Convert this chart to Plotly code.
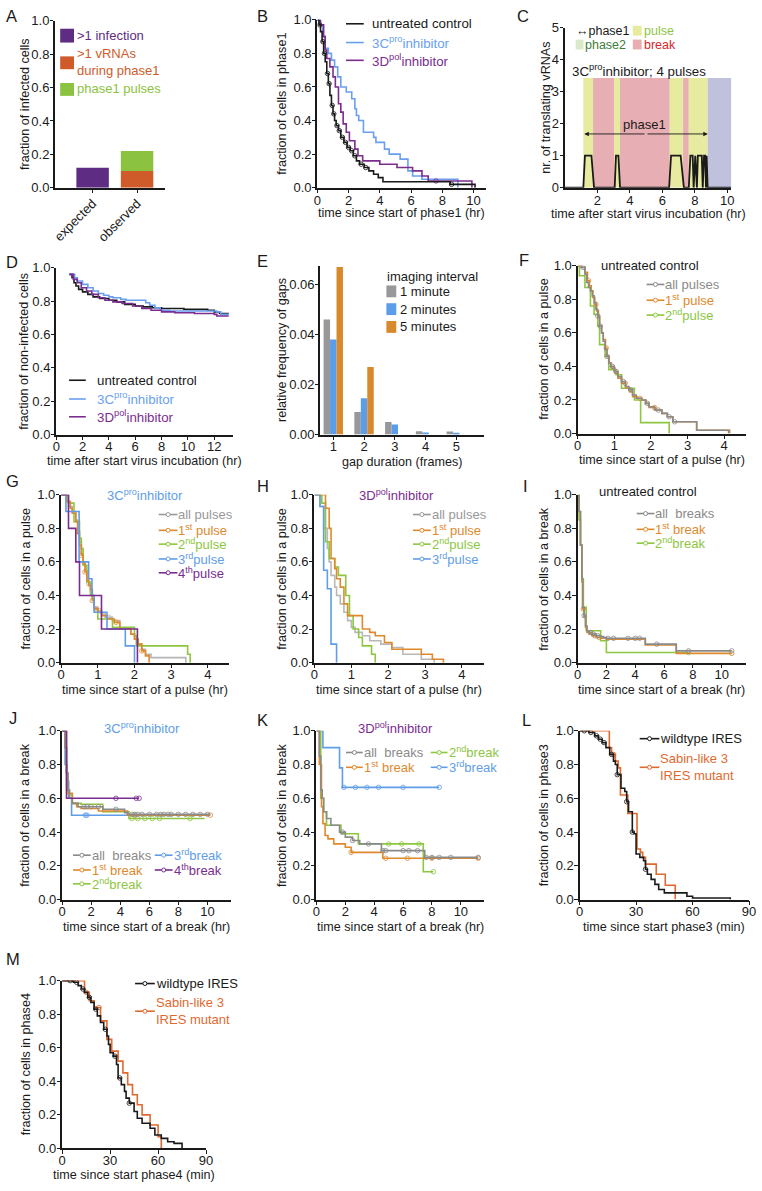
import numpy as np
import plotly.graph_objects as go

W, H = 762, 1191
FONT = "Liberation Sans, Arial, sans-serif"

BLACK = "#1a1a1a"
GRAY = "#999999"
ORANGE = "#e0892c"
GREEN = "#8dc63f"
BLUE = "#5f9de9"
PURPLE = "#7b2c8f"
RED_ORANGE = "#df6a30"

# ---------------- data ----------------
# A
a_groups = ["expected", "observed"]
a_multi_infection = [0.12, 0]
a_multi_vrna = [0, 0.10]
a_phase1_pulses = [0, 0.12]

# B  fraction of cells in phase1 (hr)
b_ctrl_t = [0, 0.1, 0.2, 0.3, 0.4, 0.5, 0.6, 0.7, 0.8, 0.9, 1.0, 1.1, 1.2, 1.35, 1.5, 1.7, 1.9, 2.1, 2.3, 2.5, 2.7, 3.0, 3.3, 3.6, 3.9, 4.2, 8.5, 10.1]
b_ctrl_s = [1.0, 0.97, 0.93, 0.87, 0.80, 0.75, 0.68, 0.62, 0.55, 0.49, 0.44, 0.40, 0.37, 0.34, 0.30, 0.27, 0.24, 0.22, 0.19, 0.16, 0.14, 0.12, 0.10, 0.08, 0.06, 0.035, 0.02, 0.0]
b_ctrl_cens = [0.15, 0.35, 0.45, 0.65, 0.75, 0.95, 1.05, 1.25, 1.4, 1.6, 1.8, 2.0, 2.2, 2.4, 2.8, 3.1, 8.6]
b_3c_t = [0, 0.15, 0.35, 0.5, 0.7, 0.9, 1.1, 1.3, 1.5, 1.85, 2.2, 2.4, 2.5, 2.65, 2.95, 3.6, 3.75, 4.3, 4.6, 5.3, 5.8, 6.1, 6.7, 9.0]
b_3c_s = [1.0, 0.97, 0.9, 0.83, 0.8, 0.76, 0.72, 0.66, 0.60, 0.57, 0.53, 0.47, 0.43, 0.40, 0.33, 0.30, 0.27, 0.23, 0.20, 0.17, 0.10, 0.07, 0.05, 0.0]
b_3d_t = [0, 0.2, 0.4, 0.5, 0.6, 0.8, 1.0, 1.15, 1.35, 1.5, 1.65, 1.85, 2.05, 2.4, 2.6, 2.9, 4.0, 5.1, 6.1, 6.7, 7.1, 9.9]
b_3d_s = [1.0, 0.97, 0.9, 0.82, 0.77, 0.72, 0.66, 0.60, 0.50, 0.45, 0.38, 0.33, 0.28, 0.23, 0.19, 0.16, 0.14, 0.12, 0.10, 0.07, 0.04, 0.0]
b_3d_cens = [7.6]

# C  example cell trace
c_time = [0, 1.14, 1.24, 1.64, 1.8, 3.07, 3.15, 3.3, 3.4, 6.42, 6.54, 7.13, 7.33, 7.63, 7.73, 7.87, 7.93, 8.03, 8.13, 8.19, 8.43, 8.49, 8.57, 8.64, 8.69, 8.73, 8.79, 10.24]
c_count = [0, 0, 1, 1, 0, 0, 1, 1, 0, 0, 1, 1, 0, 0, 1, 1, 0, 1, 0, 1, 1, 0, 1, 1, 0, 1, 0, 0]
c_seg_start = [1.14, 1.74, 3.05, 3.4, 6.46, 7.28, 7.63, 8.79]
c_seg_end = [1.74, 3.05, 3.4, 6.46, 7.28, 7.63, 8.79, 10.24]
c_seg_kind = ["pulse", "break", "pulse", "break", "pulse", "break", "pulse", "phase2"]
c_band_top = 3.43
c_phase1 = [1.2, 8.8]

# D  fraction of non-infected cells (hr)
d_ctrl_t = [1.0, 1.2, 1.35, 1.5, 1.7, 2.0, 2.4, 2.8, 3.3, 4.0, 4.6, 5.2, 6.0, 6.6, 7.3, 8.0, 9.7, 11.5, 12.0, 12.4, 13.1]
d_ctrl_s = [0.96, 0.94, 0.91, 0.89, 0.87, 0.855, 0.84, 0.825, 0.815, 0.805, 0.795, 0.78, 0.77, 0.765, 0.76, 0.755, 0.75, 0.745, 0.735, 0.725, 0.725]
d_3c_t = [1.0, 1.4, 1.6, 2.0, 2.4, 2.8, 3.2, 3.6, 4.0, 4.3, 4.9, 5.3, 6.8, 7.1, 7.5, 7.9, 8.6, 12.2, 12.5, 13.1]
d_3c_s = [0.96, 0.94, 0.92, 0.90, 0.88, 0.86, 0.845, 0.835, 0.825, 0.82, 0.81, 0.805, 0.79, 0.775, 0.76, 0.745, 0.74, 0.735, 0.72, 0.72]
d_3d_t = [1.0, 1.3, 1.6, 1.9, 2.3, 2.7, 3.2, 3.7, 4.3, 5.0, 5.8, 6.5, 7.2, 8.0, 9.0, 10.5, 12.0, 12.2, 13.1]
d_3d_s = [0.96, 0.93, 0.91, 0.88, 0.86, 0.84, 0.82, 0.805, 0.795, 0.785, 0.77, 0.755, 0.745, 0.735, 0.73, 0.725, 0.72, 0.71, 0.71]

# E  gap durations
e_frames = [1, 2, 3, 4, 5]
e_1min = [0.046, 0.009, 0.005, 0.0013, 0.0012]
e_2min = [0.038, 0.0145, 0.004, 0.0008, 0.0004]
e_5min = [0.067, 0.027, 0, 0, 0]

# F  untreated pulses (hr)
f_all_t = [0, 0.1, 0.2, 0.25, 0.3, 0.35, 0.4, 0.45, 0.5, 0.55, 0.6, 0.65, 0.7, 0.75, 0.8, 0.85, 0.9, 1.0, 1.1, 1.2, 1.3, 1.4, 1.5, 1.6, 1.75, 1.85, 1.95, 2.1, 2.3, 2.45, 2.6, 3.25, 4.12]
f_all_s = [1.0, 0.99, 0.95, 0.90, 0.87, 0.85, 0.82, 0.78, 0.74, 0.70, 0.64, 0.60, 0.55, 0.50, 0.46, 0.42, 0.40, 0.37, 0.34, 0.31, 0.28, 0.26, 0.23, 0.21, 0.20, 0.18, 0.16, 0.14, 0.12, 0.10, 0.07, 0.02, 0.0]
f_all_cens = [0.15, 0.55, 0.62, 0.8, 0.95, 1.05, 1.25, 1.45, 1.9, 2.2, 2.5, 2.65]
f_1st_t = [0, 0.12, 0.2, 0.27, 0.32, 0.37, 0.42, 0.47, 0.52, 0.57, 0.6, 0.66, 0.7, 0.76, 0.8, 0.86, 0.92, 1.02, 1.1, 1.2, 1.32, 1.42, 1.5, 1.62, 1.75, 1.87, 1.95, 2.12, 2.3, 2.45, 2.6, 3.25, 4.15]
f_1st_s = [1.0, 0.99, 0.96, 0.91, 0.88, 0.85, 0.81, 0.77, 0.73, 0.69, 0.64, 0.60, 0.56, 0.51, 0.46, 0.42, 0.39, 0.36, 0.33, 0.30, 0.27, 0.25, 0.22, 0.21, 0.20, 0.18, 0.155, 0.14, 0.12, 0.10, 0.07, 0.02, 0.0]
f_1st_cens = [0.3, 0.5, 0.78, 1.3, 1.7, 2.1]
f_2nd_t = [0, 0.05, 0.2, 0.35, 0.45, 0.55, 0.6, 0.75, 0.85, 1.05, 1.2, 1.55, 1.72, 2.5]
f_2nd_s = [1.0, 0.94, 0.87, 0.76, 0.71, 0.64, 0.53, 0.46, 0.38, 0.35, 0.27, 0.20, 0.065, 0.0]

# G  3Cpro pulses (hr)
g_all_t = [0, 0.15, 0.2, 0.3, 0.4, 0.45, 0.5, 0.55, 0.6, 0.65, 0.7, 0.75, 0.8, 0.85, 0.9, 1.0, 1.1, 1.2, 1.4, 1.6, 1.9, 2.0, 2.1, 2.2, 2.3, 2.45, 3.4]
g_all_s = [1.0, 0.97, 0.93, 0.90, 0.85, 0.78, 0.72, 0.65, 0.60, 0.55, 0.50, 0.47, 0.44, 0.38, 0.33, 0.31, 0.29, 0.27, 0.25, 0.20, 0.17, 0.14, 0.11, 0.08, 0.05, 0.03, 0.0]
g_all_cens = [0.45, 0.75, 1.05, 1.3]
g_1st_t = [0, 0.15, 0.25, 0.3, 0.4, 0.45, 0.5, 0.55, 0.6, 0.65, 0.7, 0.75, 0.8, 0.85, 0.9, 1.0, 1.1, 1.25, 1.45, 1.6, 1.9, 2.0, 2.1, 2.2, 2.3, 2.4]
g_1st_s = [1.0, 0.96, 0.92, 0.89, 0.84, 0.77, 0.70, 0.64, 0.59, 0.54, 0.49, 0.46, 0.43, 0.37, 0.32, 0.30, 0.28, 0.26, 0.24, 0.20, 0.17, 0.14, 0.11, 0.07, 0.04, 0.0]
g_1st_cens = [0.55, 0.65, 0.85, 0.95, 1.5, 2.2]
g_2nd_t = [0, 0.2, 0.35, 0.5, 0.55, 0.6, 0.7, 0.8, 0.9, 1.0, 1.4, 2.0, 2.05, 3.45, 3.52]
g_2nd_s = [1.0, 0.95, 0.84, 0.74, 0.68, 0.58, 0.48, 0.40, 0.32, 0.26, 0.21, 0.16, 0.10, 0.05, 0.0]
g_3rd_t = [0, 0.13, 0.49, 0.75, 0.84, 0.9, 1.25, 1.75, 2.0]
g_3rd_s = [1.0, 0.9, 0.6, 0.5, 0.4, 0.3, 0.2, 0.1, 0.0]
g_4th_t = [0, 0.2, 0.4, 0.5, 1.1, 2.08]
g_4th_s = [1.0, 0.8, 0.6, 0.4, 0.2, 0.0]

# H  3Dpol pulses (hr)
h_all_t = [0, 0.15, 0.25, 0.35, 0.4, 0.45, 0.55, 0.6, 0.7, 0.8, 0.9, 1.0, 1.1, 1.3, 1.5, 1.8, 2.1, 2.4, 2.9, 3.25]
h_all_s = [1.0, 0.93, 0.80, 0.68, 0.60, 0.52, 0.45, 0.40, 0.35, 0.30, 0.25, 0.21, 0.18, 0.16, 0.13, 0.11, 0.09, 0.05, 0.02, 0.0]
h_1st_t = [0, 0.3, 0.4, 0.45, 0.55, 0.6, 0.7, 0.8, 0.9, 1.3, 1.5, 1.65, 1.9, 2.1, 2.9, 3.2, 3.5]
h_1st_s = [1.0, 0.92, 0.80, 0.62, 0.56, 0.50, 0.45, 0.35, 0.28, 0.20, 0.18, 0.16, 0.12, 0.08, 0.05, 0.02, 0.0]
h_2nd_t = [0, 0.2, 0.3, 0.4, 0.55, 0.65, 0.85, 0.95, 1.05, 1.2, 1.3, 1.55, 1.65]
h_2nd_s = [1.0, 0.95, 0.72, 0.62, 0.57, 0.52, 0.40, 0.28, 0.20, 0.15, 0.10, 0.05, 0.0]
h_3rd_t = [0, 0.15, 0.25, 0.35, 0.45, 0.6]
h_3rd_s = [1.0, 0.93, 0.55, 0.44, 0.11, 0.0]

# I  untreated breaks (hr)
i_all_t = [0, 0.1, 0.2, 0.3, 0.35, 0.45, 0.55, 0.65, 0.8, 1.0, 1.3, 1.6, 1.8, 2.0, 4.7, 6.85, 10.7]
i_all_s = [1.0, 0.90, 0.70, 0.50, 0.33, 0.28, 0.22, 0.19, 0.18, 0.17, 0.16, 0.155, 0.15, 0.145, 0.11, 0.07, 0.07]
i_all_cens = [0.45, 0.9, 1.1, 1.4, 2.1, 2.5, 3.5, 4.0, 4.3, 5.5, 7.7, 10.7]
i_1st_t = [0, 0.1, 0.2, 0.3, 0.35, 0.45, 0.55, 0.65, 0.8, 1.0, 1.3, 1.6, 2.0, 4.7, 6.85, 10.7]
i_1st_s = [1.0, 0.90, 0.70, 0.48, 0.32, 0.27, 0.21, 0.18, 0.17, 0.16, 0.15, 0.145, 0.14, 0.105, 0.055, 0.055]
i_1st_cens = [0.4, 1.2, 1.5, 10.7]
i_2nd_t = [0, 0.1, 0.2, 0.3, 0.4, 0.6, 1.6, 2.0, 7.7]
i_2nd_s = [1.0, 0.85, 0.7, 0.5, 0.33, 0.19, 0.13, 0.06, 0.06]
i_2nd_cens = [7.7]

# J  3Cpro breaks (hr)
j_all_t = [0, 0.2, 0.3, 0.4, 0.5, 0.7, 1.1, 2.8, 4.3, 4.5, 10.2]
j_all_s = [1.0, 0.9, 0.75, 0.65, 0.6, 0.57, 0.55, 0.535, 0.515, 0.505, 0.505]
j_all_cens = [1.5, 1.7, 2.0, 2.5, 3.7, 4.8, 5.0, 5.2, 5.5, 6.0, 6.5, 6.8, 7.0, 7.3, 7.5, 8.0, 8.5, 9.0, 9.5, 10.0]
j_1st_t = [0, 0.2, 0.3, 0.4, 0.7, 1.0, 1.3, 2.5, 4.5, 10.2]
j_1st_s = [1.0, 0.9, 0.75, 0.63, 0.57, 0.55, 0.54, 0.525, 0.5, 0.5]
j_1st_cens = [5.0, 10.2]
j_2nd_t = [0, 0.3, 0.5, 0.7, 1.3, 2.8, 4.6, 9.8]
j_2nd_s = [1.0, 0.65, 0.62, 0.57, 0.565, 0.52, 0.48, 0.48]
j_2nd_cens = [4.8, 5.2, 5.7, 6.2, 6.7, 8.8]
j_3rd_t = [0, 0.2, 0.35, 0.45, 0.65, 4.5]
j_3rd_s = [1.0, 0.8, 0.7, 0.6, 0.5, 0.5]
j_3rd_cens = [1.6, 1.7]
j_4th_t = [0, 0.3, 5.3]
j_4th_s = [1.0, 0.6, 0.6]
j_4th_cens = [3.7, 5.1, 5.3]

# K  3Dpol breaks (hr)
k_all_t = [0, 0.2, 0.3, 0.4, 0.5, 0.7, 1.0, 1.6, 2.0, 2.5, 3.0, 4.5, 7.5, 11.2]
k_all_s = [1.0, 0.85, 0.65, 0.6, 0.52, 0.48, 0.44, 0.40, 0.37, 0.35, 0.33, 0.29, 0.25, 0.25]
k_all_cens = [1.8, 2.5, 3.6, 4.6, 4.8, 6.0, 6.4, 7.0, 7.6, 8.0, 8.5, 9.3, 11.2]
k_1st_t = [0, 0.2, 0.35, 0.45, 0.6, 0.8, 1.2, 2.0, 2.4, 4.6, 11.2]
k_1st_s = [1.0, 0.8, 0.55, 0.45, 0.38, 0.36, 0.33, 0.31, 0.28, 0.245, 0.245]
k_1st_cens = [2.4, 4.8, 6.3, 8.0, 11.2]
k_2nd_t = [0, 0.3, 0.5, 0.7, 1.7, 2.9, 7.4, 8.1]
k_2nd_s = [1.0, 0.6, 0.52, 0.44, 0.39, 0.33, 0.165, 0.165]
k_2nd_cens = [5.0, 5.9, 7.1, 8.1]
k_3rd_t = [0, 0.45, 1.6, 1.8, 8.5]
k_3rd_s = [1.0, 0.9, 0.78, 0.665, 0.665]
k_3rd_cens = [1.9, 2.7, 3.5, 4.3, 6.0, 8.5]

# L  phase3 (min)
l_wt_t = [0, 5, 8, 10, 12, 14, 16, 18, 19, 20, 22, 24, 25, 26, 28, 29, 30, 32, 34, 35, 36, 38, 40, 42, 45, 57, 60, 80]
l_wt_s = [1.0, 0.99, 0.97, 0.95, 0.93, 0.90, 0.86, 0.82, 0.80, 0.74, 0.66, 0.64, 0.58, 0.52, 0.40, 0.39, 0.27, 0.25, 0.23, 0.18, 0.15, 0.12, 0.09, 0.06, 0.04, 0.02, 0.01, 0.0]
l_wt_cens = [2.5, 6, 9, 11, 13, 17, 20, 25, 28, 35]
l_mut_t = [0, 15.8, 17, 19, 20.5, 21.7, 25.6, 30.5, 32.3, 33.5, 35, 40.7, 45.5, 50.8]
l_mut_s = [1.0, 0.90, 0.86, 0.82, 0.78, 0.62, 0.51, 0.30, 0.28, 0.25, 0.21, 0.15, 0.085, 0.0]
l_mut_cens = [18]

# M  phase4 (min)
m_wt_t = [0, 7, 10, 12, 14, 16, 18, 20, 22, 24, 26, 28, 29, 30, 32, 34, 35, 37, 39, 40, 42, 45, 47, 50, 55, 58, 62, 66, 70, 75]
m_wt_s = [1.0, 0.99, 0.97, 0.95, 0.93, 0.90, 0.87, 0.83, 0.79, 0.75, 0.71, 0.67, 0.62, 0.57, 0.55, 0.50, 0.42, 0.38, 0.34, 0.30, 0.27, 0.22, 0.18, 0.15, 0.12, 0.08, 0.06, 0.04, 0.03, 0.0]
m_wt_cens = [5, 9, 13, 17, 21, 27, 33, 36, 42]
m_mut_t = [0, 14, 17, 20, 24, 28, 31, 35, 38, 41, 44, 47, 50, 55, 60, 62]
m_mut_s = [1.0, 0.93, 0.88, 0.84, 0.76, 0.65, 0.58, 0.52, 0.45, 0.38, 0.32, 0.26, 0.20, 0.14, 0.07, 0.0]
m_mut_cens = [15, 23]

# ---------------- figure ----------------
fig = go.Figure()
axes = {}
ann = []
shp = []

TICK_SIZE = 13
TITLE_SIZE = 12.6
LEG_SIZE = 13


def ax_id(n):
    return "" if n == 1 else str(n)


def px(x):
    return x / W


def py(y):
    return 1 - y / H


def txt(x, y, text, color=BLACK, size=LEG_SIZE, xanchor="left", angle=0):
    ann.append(dict(x=px(x), y=py(y), xref="paper", yref="paper", text=text,
                    showarrow=False, xanchor=xanchor, yanchor="middle", align=xanchor,
                    borderpad=0, textangle=angle,
                    font=dict(size=size, color=color, family=FONT)))


def make_axes(n, l, r, t, b, xr, yr, xtv, ytv, xtitle, ytitle, ytf=".1f",
              xcat=False, xangle=0, xoff=27, yoff=35):
    s = ax_id(n)
    common = dict(showline=True, linecolor=BLACK, linewidth=1.5, ticks="outside",
                  ticklen=3.5, tickwidth=1.3, tickcolor=BLACK, showgrid=False,
                  zeroline=False, tickfont=dict(size=TICK_SIZE, color=BLACK))
    xa = dict(common, domain=[l / W, r / W], anchor="y" + s, range=xr, tickangle=xangle,
              ticklabelstandoff=-2 if xcat else -4)
    if xcat:
        xa["type"] = "category"
    else:
        xa["tickvals"] = xtv
    axes["xaxis" + s] = xa
    axes["yaxis" + s] = dict(common, domain=[1 - b / H, 1 - t / H], anchor="x" + s,
                             range=yr, tickvals=ytv, tickformat=ytf,
                             ticklabelstandoff=-2)
    if xtitle:
        txt((l + r) / 2, b + xoff, xtitle, BLACK, TITLE_SIZE, "center")
    if ytitle:
        txt(l - yoff, (t + b) / 2, ytitle, BLACK, TITLE_SIZE, "center", -90)


def km(n, t, s, color, cens=None, width=1.6):
    a = ax_id(n)
    fig.add_trace(go.Scatter(x=t, y=s, mode="lines", xaxis="x" + a, yaxis="y" + a,
                             line=dict(color=color, width=width, shape="hv"),
                             showlegend=False, hoverinfo="skip"))
    if cens:
        tt = np.array(t)
        ss = np.array(s)
        idx = np.clip(np.searchsorted(tt, cens, side="right") - 1, 0, len(ss) - 1)
        fig.add_trace(go.Scatter(x=cens, y=ss[idx], mode="markers", xaxis="x" + a,
                                 yaxis="y" + a,
                                 marker=dict(symbol="circle-open", size=4.5, color=color,
                                             line=dict(width=1, color=color), opacity=0.8),
                                 showlegend=False, hoverinfo="skip"))


def seg(x1, x2, y, color, dot=False):
    shp.append(dict(type="line", xref="paper", yref="paper", x0=px(x1), x1=px(x2),
                    y0=py(y), y1=py(y), line=dict(color=color, width=1.6)))
    if dot:
        xm = px((x1 + x2) / 2)
        shp.append(dict(type="circle", xref="paper", yref="paper", xsizemode="pixel",
                        ysizemode="pixel", xanchor=xm, yanchor=py(y), x0=-2, x1=2,
                        y0=-2, y1=2, line=dict(color=color, width=1), fillcolor="white"))


def sq(x1, x2, y1, y2, color):
    shp.append(dict(type="rect", xref="paper", yref="paper", x0=px(x1), x1=px(x2),
                    y0=py(y2), y1=py(y1), line=dict(width=0), fillcolor=color))


def letter(x, y, s):
    txt(x, y, s, BLACK, 16.5)


# ---- A ----
PURPLE_A, ORANGE_A, GREEN_A = "#5e2c83", "#cf5b2b", "#8bc340"
make_axes(1, 52, 163, 14, 183, [-0.84, 1.62], [0, 1], None,
          [0, 0.2, 0.4, 0.6, 0.8, 1.0], None, "fraction of infected cells",
          xcat=True, xangle=-45, yoff=30)
for vals, col, base in [(a_multi_infection, PURPLE_A, None),
                        (a_multi_vrna, ORANGE_A, None),
                        (a_phase1_pulses, GREEN_A, a_multi_vrna)]:
    fig.add_trace(go.Bar(x=a_groups, y=vals, base=base, width=0.73, offset=-0.365,
                         marker=dict(color=col, line=dict(width=0)), xaxis="x", yaxis="y",
                         showlegend=False, hoverinfo="skip"))
sq(57, 71, 22, 36, PURPLE_A)
txt(73, 29, ">1 infection", PURPLE_A)
sq(57, 71, 50, 63, ORANGE_A)
txt(73, 56, ">1 vRNAs<br>during phase1", ORANGE_A)
sq(57, 71, 77, 90, GREEN_A)
txt(73, 83, "phase1 pulses", GREEN_A)
letter(1, 9, "A")

# ---- B ----
BLUE_B = "#6a9ff0"
make_axes(2, 318, 489, 13, 183, [0, 10.8], [0, 1], [0, 2, 4, 6, 8, 10],
          [0, 0.2, 0.4, 0.6, 0.8, 1.0], "time since start of phase1 (hr)",
          "fraction of cells in phase1", xoff=26, yoff=36)
km(2, b_3c_t, b_3c_s, BLUE_B)
km(2, b_3d_t, b_3d_s, PURPLE, b_3d_cens)
km(2, b_ctrl_t, b_ctrl_s, BLACK, b_ctrl_cens)
seg(347, 365, 17, BLACK)
txt(372, 17, "untreated control", BLACK, 13.3)
seg(347, 365, 36, BLUE_B)
txt(372, 36, "3C<sup>pro</sup>inhibitor", BLUE_B, 13.3)
seg(347, 365, 54, PURPLE)
txt(372, 54, "3D<sup>pol</sup>inhibitor", PURPLE, 13.3)
letter(256, 9, "B")

# ---- C ----
PULSE_C, BREAK_C, PHASE2_C, PHASE2_SW = "#e6eba0", "#e7aeb3", "#bfc1dd", "#d9e9cc"
make_axes(3, 569, 738, 21, 183, [0, 10.25], [0, 5], [2, 4, 6, 8, 10],
          [0, 1, 2, 3, 4, 5], "time after start virus incubation (hr)",
          "nr. of translating vRNAs", ytf="d", xoff=27, yoff=19)
kind_col = {"pulse": PULSE_C, "break": BREAK_C, "phase2": PHASE2_C}
for x0, x1, k in zip(c_seg_start, c_seg_end, c_seg_kind):
    shp.append(dict(type="rect", xref="x3", yref="y3", x0=x0, x1=x1, y0=0, y1=c_band_top,
                    line=dict(width=0), fillcolor=kind_col[k], layer="below"))
fig.add_trace(go.Scatter(x=c_time, y=c_count, mode="lines", xaxis="x3", yaxis="y3",
                         line=dict(color=BLACK, width=1.8), showlegend=False,
                         hoverinfo="skip"))
mid = sum(c_phase1) / 2
for end in c_phase1:
    ann.append(dict(x=end, y=1.68, ax=mid, ay=1.68, xref="x3", yref="y3", axref="x3",
                    ayref="y3", text="", showarrow=True, arrowhead=2, arrowsize=1,
                    arrowwidth=0.9, arrowcolor=BLACK))
ann.append(dict(x=mid - 0.1, y=1.97, xref="x3", yref="y3", text="phase1", showarrow=False,
                font=dict(size=LEG_SIZE, color=BLACK, family=FONT)))
txt(575, 64, "3C<sup>pro</sup>inhibitor; 4 pulses", BLACK, 13.3)
txt(579, 24, "\u2194phase1", BLACK, 12.5)
sq(638, 647, 19, 29, PULSE_C)
txt(648, 24, "pulse", GREEN, 12.5)
sq(580, 588, 33, 43, PHASE2_SW)
txt(589, 38, "phase2", "#3e7d3a", 12.5)
sq(638, 647, 33, 43, BREAK_C)
txt(648, 38, "break", "#d4262c", 12.5)
letter(520, 9, "C")

# ---- D ----
make_axes(4, 53, 232, 264, 433, [0, 13.4], [0, 1], [0, 2, 4, 6, 8, 10, 12],
          [0, 0.2, 0.4, 0.6, 0.8, 1.0], "time after start virus incubation (hr)",
          "fraction of non-infected cells", xoff=27, yoff=33)
km(4, d_ctrl_t, d_ctrl_s, BLACK)
km(4, d_3c_t, d_3c_s, BLUE_B)
km(4, d_3d_t, d_3d_s, PURPLE)
seg(66, 83, 378, BLACK)
txt(93, 378, "untreated control", BLACK, 13.3)
seg(66, 83, 397, BLUE_B)
txt(93, 397, "3C<sup>pro</sup>inhibitor", BLUE_B, 13.3)
seg(66, 83, 415, PURPLE)
txt(93, 415, "3D<sup>pol</sup>inhibitor", PURPLE, 13.3)
letter(1, 258, "D")

# ---- E ----
GRAY_E, BLUE_E, ORANGE_E = "#98989a", "#5b9de8", "#d8892c"
make_axes(5, 321, 487, 262, 433, [0.58, 5.9], [0, 0.0675], [1, 2, 3, 4, 5],
          [0, 0.02, 0.04, 0.06], "gap duration (frames)", "relative frequency of gaps",
          ytf=".2f", xoff=28, yoff=39)
for vals, col, off in [(e_1min, GRAY_E, -0.315), (e_2min, BLUE_E, -0.105),
                       (e_5min, ORANGE_E, 0.105)]:
    fig.add_trace(go.Bar(x=e_frames, y=vals, width=0.21, offset=off,
                         marker=dict(color=col, line=dict(width=0)), xaxis="x5",
                         yaxis="y5", showlegend=False, hoverinfo="skip"))
txt(388, 273, "imaging interval")
sq(388, 398, 282, 294, GRAY_E)
txt(401, 288, "1 minute")
sq(388, 398, 300, 312, BLUE_E)
txt(401, 306, "2 minutes")
sq(388, 398, 318, 330, ORANGE_E)
txt(401, 324, "5 minutes")
letter(256, 257, "E")

# ---- F ----
make_axes(6, 582, 753, 262, 432, [0, 4.6], [0, 1], [0, 1, 2, 3, 4],
          [0, 0.2, 0.4, 0.6, 0.8, 1.0], "time since start of a pulse (hr)",
          "fraction of cells in a pulse", xoff=27, yoff=34)
km(6, f_2nd_t, f_2nd_s, GREEN)
km(6, f_1st_t, f_1st_s, ORANGE, f_1st_cens)
km(6, f_all_t, f_all_s, "#8a8a8a", f_all_cens)
txt(655, 262, "untreated control", BLACK, LEG_SIZE, "center")
for yy, col, lab in [(281, "#8a8a8a", "all pulses"), (297, ORANGE, "1<sup>st</sup> pulse"),
                     (312, GREEN, "2<sup>nd</sup>pulse")]:
    seg(652, 670, yy, col, True)
    txt(670, yy, lab, col)
letter(522, 256, "F")

# ---- G ----
make_axes(7, 58, 228, 494, 664, [0, 4.57], [0, 1], [0, 1, 2, 3, 4],
          [0, 0.2, 0.4, 0.6, 0.8, 1.0], "time since start of a pulse (hr)",
          "fraction of cells in a pulse", xoff=28, yoff=36)
km(7, g_all_t, g_all_s, "#b5b5b5", g_all_cens)
km(7, g_2nd_t, g_2nd_s, GREEN)
km(7, g_1st_t, g_1st_s, ORANGE, g_1st_cens)
km(7, g_3rd_t, g_3rd_s, BLUE)
km(7, g_4th_t, g_4th_s, PURPLE)
txt(143, 494, "3C<sup>pro</sup>inhibitor", BLUE, LEG_SIZE, "center")
for yy, col, lab in [(514, "#999999", "all pulses"), (530, ORANGE, "1<sup>st</sup> pulse"),
                     (544, GREEN, "2<sup>nd</sup>pulse"), (559, BLUE, "3<sup>rd</sup>pulse"),
                     (573, PURPLE, "4<sup>th</sup>pulse")]:
    seg(157, 176, yy, col, True)
    txt(176, yy, lab, col)
letter(1, 480, "G")

# ---- H ----
make_axes(8, 315, 487, 494, 664, [0, 4.6], [0, 1], [0, 1, 2, 3, 4],
          [0, 0.2, 0.4, 0.6, 0.8, 1.0], "time since start of a pulse (hr)",
          "fraction of cells in a pulse", xoff=28, yoff=33)
km(8, h_all_t, h_all_s, "#b8b8b8")
km(8, h_2nd_t, h_2nd_s, GREEN)
km(8, h_1st_t, h_1st_s, ORANGE)
km(8, h_3rd_t, h_3rd_s, BLUE)
txt(398, 494, "3D<sup>pol</sup>inhibitor", PURPLE, LEG_SIZE, "center")
for yy, col, lab in [(514, "#999999", "all pulses"), (530, ORANGE, "1<sup>st</sup> pulse"),
                     (544, GREEN, "2<sup>nd</sup>pulse"), (559, BLUE, "3<sup>rd</sup>pulse")]:
    seg(415, 433, yy, col, True)
    txt(433, yy, lab, col)
letter(256, 485, "H")

# ---- I ----
make_axes(9, 582, 753, 494, 664, [0, 11.7], [0, 1], [0, 2, 4, 6, 8, 10],
          [0, 0.2, 0.4, 0.6, 0.8, 1.0], "time since start of a break (hr)",
          "fraction of cells in a break", xoff=28, yoff=34)
km(9, i_2nd_t, i_2nd_s, GREEN, i_2nd_cens)
km(9, i_1st_t, i_1st_s, ORANGE, i_1st_cens)
km(9, i_all_t, i_all_s, "#8a8a8a", i_all_cens)
txt(653, 491, "untreated control", BLACK, LEG_SIZE, "center")
for yy, col, lab in [(513, "#8a8a8a", "all  breaks"), (529, ORANGE, "1<sup>st</sup> break"),
                     (543, GREEN, "2<sup>nd</sup>break")]:
    seg(642, 660, yy, col, True)
    txt(660, yy, lab, col)
letter(526, 485, "I")

# ---- J ----
make_axes(10, 59, 230, 733, 904, [0, 11.6], [0, 1], [0, 2, 4, 6, 8, 10],
          [0, 0.2, 0.4, 0.6, 0.8, 1.0], "time since start of a break (hr)",
          "fraction of cells in a break", xoff=28, yoff=37)
km(10, j_3rd_t, j_3rd_s, BLUE, j_3rd_cens)
km(10, j_2nd_t, j_2nd_s, GREEN, j_2nd_cens)
km(10, j_1st_t, j_1st_s, ORANGE, j_1st_cens)
km(10, j_all_t, j_all_s, "#8a8a8a", j_all_cens)
km(10, j_4th_t, j_4th_s, PURPLE, j_4th_cens)
txt(140, 730, "3C<sup>pro</sup>inhibitor", BLUE, LEG_SIZE, "center")
for x1, yy, col, lab in [(70, 859, "#8a8a8a", "all  breaks"), (70, 874, ORANGE, "1<sup>st</sup> break"),
                         (70, 888, GREEN, "2<sup>nd</sup>break"), (153, 859, BLUE, "3<sup>rd</sup>break"),
                         (153, 874, PURPLE, "4<sup>th</sup>break")]:
    seg(x1, x1 + 18, yy, col, True)
    txt(x1 + 18, yy, lab, col)
letter(4, 720, "J")

# ---- K ----
make_axes(11, 317, 487, 733, 904, [0, 11.6], [0, 1], [0, 2, 4, 6, 8, 10],
          [0, 0.2, 0.4, 0.6, 0.8, 1.0], "time since start of a break (hr)",
          "fraction of cells in a break", xoff=28, yoff=35)
km(11, k_3rd_t, k_3rd_s, BLUE, k_3rd_cens)
km(11, k_2nd_t, k_2nd_s, GREEN, k_2nd_cens)
km(11, k_1st_t, k_1st_s, ORANGE, k_1st_cens)
km(11, k_all_t, k_all_s, "#8a8a8a", k_all_cens)
txt(397, 730, "3D<sup>pol</sup>inhibitor", PURPLE, LEG_SIZE, "center")
for x1, yy, col, lab in [(347, 755, "#8a8a8a", "all  breaks"), (347, 770, ORANGE, "1<sup>st</sup> break"),
                         (433, 755, GREEN, "2<sup>nd</sup>break"), (433, 770, BLUE, "3<sup>rd</sup>break")]:
    seg(x1, x1 + 17, yy, col, True)
    txt(x1 + 17, yy, lab, col)
letter(256, 722, "K")

# ---- L ----
make_axes(12, 584, 756, 733, 904, [0, 90], [0, 1], [0, 30, 60, 90],
          [0, 0.2, 0.4, 0.6, 0.8, 1.0], "time since start phase3 (min)",
          "fraction of cells in phase3", xoff=28, yoff=36)
km(12, l_mut_t, l_mut_s, RED_ORANGE, l_mut_cens)
km(12, l_wt_t, l_wt_s, BLACK, l_wt_cens)
seg(645, 665, 741, BLACK, True)
txt(665, 741, "wildtype IRES", BLACK)
seg(645, 665, 770, RED_ORANGE, True)
txt(665, 770, "Sabin-like 3<br>IRES mutant", RED_ORANGE)
letter(525, 722, "L")

# ---- M ----
make_axes(13, 59, 205, 986, 1156, [0, 90], [0, 1], [0, 30, 60, 90],
          [0, 0.2, 0.4, 0.6, 0.8, 1.0], "time since start phase4 (min)",
          "fraction of cells in phase4", xoff=27, yoff=37)
km(13, m_mut_t, m_mut_s, RED_ORANGE, m_mut_cens)
km(13, m_wt_t, m_wt_s, BLACK, m_wt_cens)
seg(133, 153, 989, BLACK, True)
txt(153, 989, "wildtype IRES", BLACK)
seg(133, 153, 1017, RED_ORANGE, True)
txt(153, 1017, "Sabin-like 3<br>IRES mutant", RED_ORANGE)
letter(1, 964, "M")

fig.update_layout(width=W, height=H, margin=dict(l=0, r=0, t=0, b=0), autosize=False,
                  paper_bgcolor="white", plot_bgcolor="white", barmode="overlay",
                  font=dict(family=FONT, color=BLACK), showlegend=False,
                  annotations=ann, shapes=shp, **axes)
# the page body has a default 8px margin; drop it so the figure sits at the page corner
fig.write_html("out.html", config={"displayModeBar": False},
               post_script="document.body.style.margin='0';")
